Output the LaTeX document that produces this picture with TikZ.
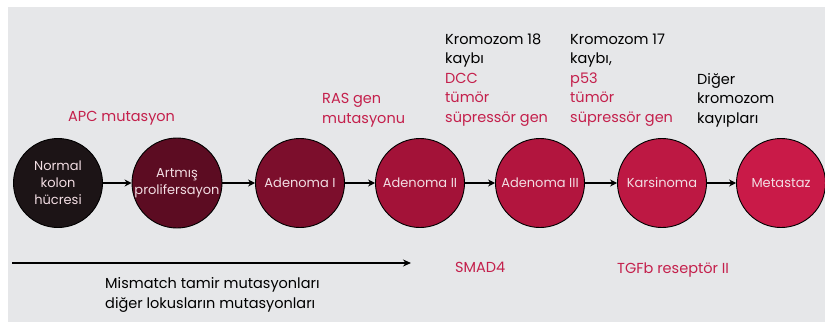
\documentclass[tikz,border=0pt]{standalone}
\usepackage{fontspec}
\setmainfont{Poppins}
\usetikzlibrary{arrows.meta}
\definecolor{bgrey}{HTML}{E6E7E9}
\definecolor{redtxt}{HTML}{C4204C}
\definecolor{intxt}{HTML}{F2DDE3}
\definecolor{c1}{HTML}{1C1416}
\definecolor{c2}{HTML}{5C0C22}
\definecolor{c3}{HTML}{7C0E2C}
\definecolor{c4}{HTML}{A31238}
\definecolor{c5}{HTML}{B2153E}
\definecolor{c6}{HTML}{BD1843}
\definecolor{c7}{HTML}{C91A48}
\tikzset{
  stage/.style={circle, draw=black, line width=0.9pt, minimum size=89pt, inner sep=0pt,
    text=intxt, align=center, font=\fontsize{13}{17}\selectfont},
  lab/.style={anchor=base west, inner sep=0pt, align=left, font=\fontsize{14.5}{19.5}\selectfont},
  conn/.style={line width=1.1pt, -{Stealth[length=7pt,width=7pt]}},
}
\begin{document}
\begin{tikzpicture}[x=1pt,y=-1pt]
\useasboundingbox (0,0) rectangle (825,325);
\fill[white] (0,0) rectangle (825,325);
\fill[bgrey] (8,7) rectangle (825,322);

\node[stage, fill=c1] (n1) at (58,183) {Normal\\kolon\\hücresi};
\node[stage, fill=c2] (n2) at (177,183) {Artmış\\prolifersayon};
\node[stage, fill=c3] (n3) at (300,183) {Adenoma I};
\node[stage, fill=c4] (n4) at (420,183) {Adenoma II};
\node[stage, fill=c5] (n5) at (540,183) {Adenoma III};
\node[stage, fill=c6] (n6) at (662,183) {Karsinoma};
\node[stage, fill=c7] (n7) at (781,183) {Metastaz};

\draw[conn] (n1) -- (n2);
\draw[conn] (n2) -- (n3);
\draw[conn] (n3) -- (n4);
\draw[conn] (n4) -- (n5);
\draw[conn] (n5) -- (n6);
\draw[conn] (n6) -- (n7);

\node[lab, text=redtxt] (apc) at (68,121) {APC mutasyon};
\node[lab, text=redtxt] (ras) at (322,123) {RAS gen\\mutasyonu};
\node[lab] (k18) at (445,122) {Kromozom 18\\kaybı\\\textcolor{redtxt}{DCC}\\\textcolor{redtxt}{tümör}\\\textcolor{redtxt}{süpressör gen}};
\node[lab] (k17) at (570,122) {Kromozom 17\\kaybı,\\\textcolor{redtxt}{p53}\\\textcolor{redtxt}{tümör}\\\textcolor{redtxt}{süpressör gen}};
\node[lab] (dig) at (697,123) {Diğer\\kromozom\\kayıpları};

\coordinate (bs) at (12,263);
\coordinate (be) at (411,263);
\draw[line width=1.4pt, -{Stealth[length=8pt,width=7pt]}] (bs) -- (be);
\node[lab] (mm) at (105,308) {Mismatch tamir mutasyonları\\diğer lokusların mutasyonları};
\node[lab, text=redtxt] (smad) at (455,272) {SMAD4};
\node[lab, text=redtxt] (tgf) at (617,273) {TGFb reseptör II};
\end{tikzpicture}
\end{document}
